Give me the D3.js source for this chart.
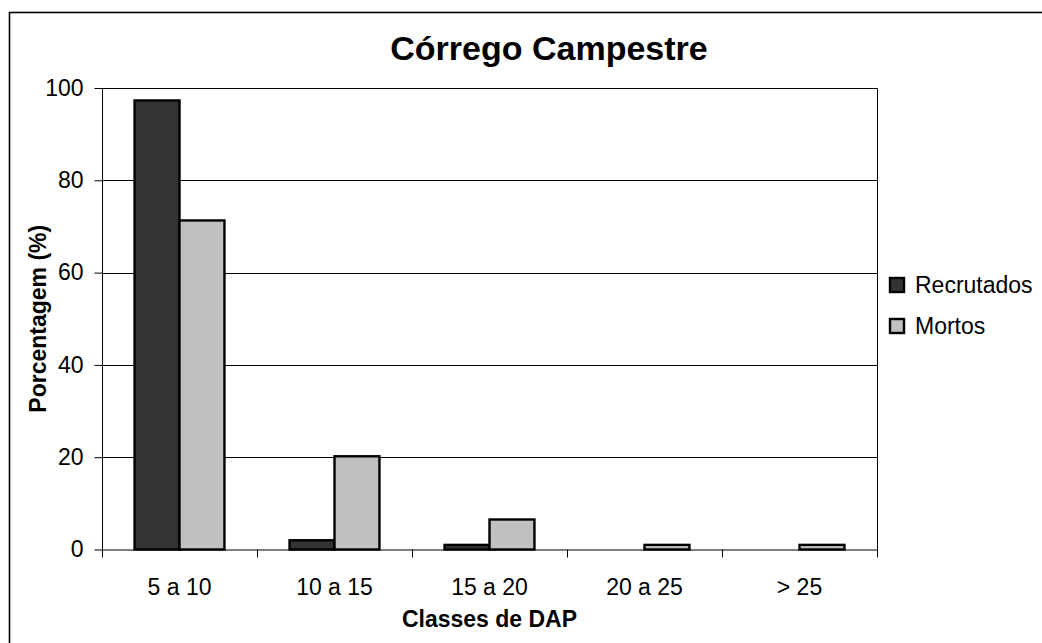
<!DOCTYPE html>
<html>
<head>
<meta charset="utf-8">
<script src="https://cdn.jsdelivr.net/npm/d3@7"></script>
<style>
  html, body { margin: 0; padding: 0; background: #fff; }
  svg { display: block; font-family: "Liberation Sans", Arial, sans-serif; }
</style>
</head>
<body>
<svg id="chart" width="1042" height="643"></svg>
<script>
// Diameter classes (DAP) and share of recruited / dead trees per class (%)
const categories = ["5 a 10", "10 a 15", "15 a 20", "20 a 25", "> 25"];
const seriesNames = ["Recrutados", "Mortos"];
const recrutados = [97.3, 2.0, 1.0, 0, 0];
const mortos = [71.3, 20.2, 6.5, 1.0, 1.0];
const yTicks = [0, 20, 40, 60, 80, 100];
const colors = ["#333333", "#c0c0c0"];

const svg = d3.select("#chart");
const plot = { left: 102, right: 877, top: 88, bottom: 549.5 };

// outer chart frame
svg.append("rect")
  .attr("x", 9.5).attr("y", 12.5)
  .attr("width", 1100).attr("height", 700)
  .attr("fill", "none").attr("stroke", "#000").attr("stroke-width", 1.6);

const x0 = d3.scaleBand().domain(categories)
  .range([plot.left, plot.right]).paddingInner(0.42).paddingOuter(0.21);
const x1 = d3.scaleBand().domain(seriesNames).range([0, x0.bandwidth()]);
const y = d3.scaleLinear().domain([0, 100]).range([plot.bottom, plot.top]);

// horizontal gridlines
svg.append("g").selectAll("line")
  .data(yTicks.filter(t => t > 0 && t < 100))
  .join("line")
  .attr("x1", plot.left).attr("x2", plot.right)
  .attr("y1", d => Math.round(y(d)) + 0.5).attr("y2", d => Math.round(y(d)) + 0.5)
  .attr("stroke", "#000").attr("stroke-width", 1);

// plot area border (top and right)
svg.append("path")
  .attr("d", `M${plot.left},${plot.top + 0.5}H${plot.right + 0.5}V${plot.bottom}`)
  .attr("fill", "none").attr("stroke", "#000").attr("stroke-width", 1);

// bars
const rows = categories.map((c, i) => ({ cat: c, values: [recrutados[i], mortos[i]] }));
const groups = svg.append("g").selectAll("g")
  .data(rows).join("g")
  .attr("transform", d => `translate(${x0(d.cat)},0)`);
groups.selectAll("rect")
  .data(d => d.values.map((v, k) => ({ name: seriesNames[k], value: v, k })).filter(e => e.value > 0))
  .join("rect")
  .attr("x", d => x1(d.name))
  .attr("y", d => y(d.value))
  .attr("width", x1.bandwidth())
  .attr("height", d => y(0) - y(d.value))
  .attr("fill", d => colors[d.k])
  .attr("stroke", "#000").attr("stroke-width", 2.4);

// y axis
const yAxis = d3.axisLeft(y).tickValues(yTicks).tickSize(8).tickPadding(11).tickFormat(d3.format("d"));
const gy = svg.append("g").attr("transform", `translate(${plot.left + 0.5},0)`).call(yAxis);
gy.select(".domain").attr("stroke", "#000").attr("d", `M0,${plot.top}V${plot.bottom}`);
gy.selectAll(".tick line").attr("stroke", "#000");
gy.selectAll(".tick text").attr("font-size", 23).attr("fill", "#000")
  .attr("font-family", "'Liberation Sans', Arial, sans-serif");

// x axis with separators between categories
const xAxis = d3.axisBottom(x0).tickSize(0).tickPadding(29);
const gx = svg.append("g").attr("transform", `translate(0,${plot.bottom})`).call(xAxis);
gx.select(".domain").attr("stroke", "#000").attr("d", `M${plot.left},0.5H${plot.right}`);
gx.selectAll(".tick text").attr("font-size", 23).attr("fill", "#000")
  .attr("font-family", "'Liberation Sans', Arial, sans-serif");
const step = x0.step();
gx.append("g").selectAll("line")
  .data(d3.range(categories.length + 1))
  .join("line")
  .attr("x1", i => Math.round(plot.left + i * step) + 0.5)
  .attr("x2", i => Math.round(plot.left + i * step) + 0.5)
  .attr("y1", 0).attr("y2", 8)
  .attr("stroke", "#000");

// titles
svg.append("text")
  .attr("x", 549).attr("y", 60)
  .attr("text-anchor", "middle")
  .attr("font-size", 34).attr("font-weight", "bold")
  .text("Córrego Campestre");

svg.append("text")
  .attr("x", (plot.left + plot.right) / 2).attr("y", 627)
  .attr("text-anchor", "middle")
  .attr("font-size", 23).attr("font-weight", "bold")
  .text("Classes de DAP");

svg.append("text")
  .attr("transform", `translate(46,${(plot.top + plot.bottom) / 2}) rotate(-90)`)
  .attr("text-anchor", "middle")
  .attr("font-size", 23).attr("font-weight", "bold")
  .text("Porcentagem (%)");

// legend
const legend = svg.append("g").selectAll("g")
  .data(seriesNames).join("g")
  .attr("transform", (d, i) => `translate(889,${277 + i * 41})`);
legend.append("rect")
  .attr("x", 1).attr("y", 1).attr("width", 14).attr("height", 14)
  .attr("fill", (d, i) => colors[i])
  .attr("stroke", "#000").attr("stroke-width", 2.4);
legend.append("text")
  .attr("x", 26).attr("y", 16)
  .attr("font-size", 23)
  .text(d => d);
</script>
</body>
</html>
